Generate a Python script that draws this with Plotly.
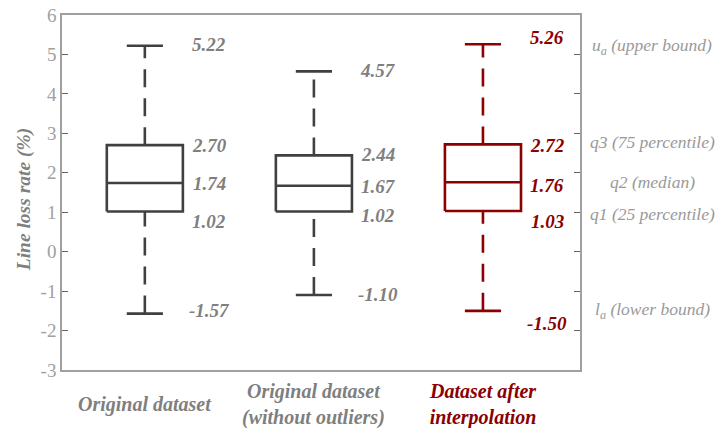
import plotly.graph_objects as go

# ---- data ----
categories = ["Original dataset", "Original dataset<br>(without outliers)", "Dataset after<br>interpolation"]
upper = [5.22, 4.57, 5.26]
q3 = [2.70, 2.44, 2.72]
median = [1.74, 1.67, 1.76]
q1 = [1.02, 1.02, 1.03]
lower = [-1.57, -1.10, -1.50]
stat_names = ["u<sub>a</sub> (upper bound)", "q3 (75 percentile)", "q2 (median)",
              "q1 (25 percentile)", "l<sub>a</sub> (lower bound)"]
y_ticks = [-3, -2, -1, 0, 1, 2, 3, 4, 5, 6]
y_ticktext = ["-3", "-2", "-1", "0", "1", "2", "3", "4", "5", "6"]

# ---- style ----
DARK = "#404040"
RED = "#8B0000"
GREY_TXT = "#7f7f7f"
AX_GREY = "#a0a0a0"
colors = [DARK, DARK, RED]
label_colors = [GREY_TXT, GREY_TXT, RED]
FONT = "Liberation Serif"
BW = 0.225   # box half width
CW = 0.107   # cap half width
LW = 2.6
# pixel nudges of value labels (upper, q3, median, q1, lower) per box
LABEL_SHIFT = [[1, 0, 0, -10, 3], [1, 1, -1, -4, 1], [7, -1, -3, -10, -13]]

fig = go.Figure()
for i in range(len(categories)):
    c = colors[i]
    # box
    fig.add_trace(go.Scatter(x=[i - BW, i + BW, i + BW, i - BW, i - BW],
                             y=[q1[i], q1[i], q3[i], q3[i], q1[i]],
                             mode="lines", line=dict(color=c, width=LW), hoverinfo="skip"))
    # median
    fig.add_trace(go.Scatter(x=[i - BW, i + BW], y=[median[i], median[i]],
                             mode="lines", line=dict(color=c, width=LW), hoverinfo="skip"))
    # whiskers
    fig.add_trace(go.Scatter(x=[i, i], y=[q3[i], upper[i]], mode="lines",
                             line=dict(color=c, width=LW, dash="18px,11px"), hoverinfo="skip"))
    fig.add_trace(go.Scatter(x=[i, i], y=[lower[i], q1[i]], mode="lines",
                             line=dict(color=c, width=LW, dash="18px,11px"), hoverinfo="skip"))
    # caps
    for v in (upper[i], lower[i]):
        fig.add_trace(go.Scatter(x=[i - CW, i + CW], y=[v, v], mode="lines",
                                 line=dict(color=c, width=LW), hoverinfo="skip"))
    # value labels
    for v, ys in zip((upper[i], q3[i], median[i], q1[i], lower[i]), LABEL_SHIFT[i]):
        fig.add_annotation(x=i + 0.38, y=v, xref="x", yref="y", yshift=ys,
                           text="<b><i>%.2f</i></b>" % v, showarrow=False,
                           font=dict(family=FONT, size=19, color=label_colors[i]),
                           xanchor="center", yanchor="middle")
    # category label under the axis
    fig.add_annotation(x=i, y=-0.097, xref="x", yref="paper",
                       text="<b><i>%s</i></b>" % categories[i], showarrow=False,
                       font=dict(family=FONT, size=20, color=label_colors[i]),
                       xanchor="center", yanchor="middle", align="center")

# right-side stat names, aligned to the third dataset's values
for name, v, ys in zip(stat_names,
                       [upper[2], q3[2], median[2], q1[2], lower[2]],
                       [-2, 2, 0, -3, 0]):
    fig.add_annotation(x=1.139, y=v, xref="paper", yref="y", yshift=ys,
                       text="<i>%s</i>" % name, showarrow=False,
                       font=dict(family=FONT, size=17.5, color="#999999"),
                       xanchor="center", yanchor="middle")

# y-axis title
fig.add_annotation(x=-0.074, y=0.48, xref="paper", yref="paper",
                   text="<b><i>Line loss rate (%)</i></b>", showarrow=False, textangle=-90,
                   font=dict(family=FONT, size=19.5, color=GREY_TXT),
                   xanchor="center", yanchor="middle")

fig.update_layout(
    width=716, height=428,
    margin=dict(l=62, r=136, t=15, b=58),
    paper_bgcolor="white", plot_bgcolor="white",
    showlegend=False,
    font=dict(family=FONT),
    xaxis=dict(range=[-0.49, 2.574], showticklabels=False, automargin=False,
               showgrid=False, zeroline=False, showline=True, linecolor=AX_GREY, linewidth=1.5,
               mirror=True, ticks=""),
    yaxis=dict(range=[-3, 6], tickvals=y_ticks, ticktext=y_ticktext, showgrid=False,
               zeroline=False, automargin=False,
               showline=True, linecolor=AX_GREY, linewidth=1.5, mirror="ticks",
               ticks="inside", ticklen=6, tickcolor="#666666", tickwidth=1.2,
               tickfont=dict(family=FONT, size=19, color=AX_GREY)),
)

fig.write_html("out.html", config={"displayModeBar": False},
               post_script="document.body.style.margin='0';document.body.style.overflow='hidden';")
